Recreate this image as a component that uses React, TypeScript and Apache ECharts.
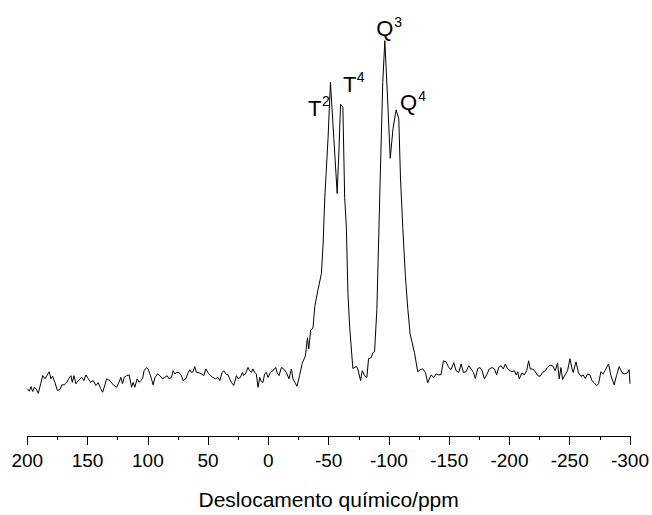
import React, { useEffect, useRef } from "react";
import * as echarts from "echarts";

// Chemical shift (ppm) and intensity (a.u.)
const ppm: number[] = [
  200.0, 198.3, 196.9, 195.5, 194.2, 192.8, 190.9, 188.9, 187.2, 185.3, 183.4, 181.8, 180.4, 179.0, 177.1, 175.1,
  172.9, 171.3, 169.3, 167.4, 165.5, 163.8, 162.7, 161.3, 159.7, 157.7, 154.9, 153.0, 151.4, 149.5, 147.5, 145.3,
  143.1, 141.2, 139.2, 137.5, 135.6, 134.2, 131.5, 128.7, 125.9, 124.0, 122.4, 121.0, 119.6, 117.6, 115.5, 113.5,
  112.2, 110.8, 108.9, 107.2, 106.0, 104.4, 103.1, 101.1, 99.8, 97.8, 95.6, 94.0, 92.0, 90.1, 87.8, 85.9,
  84.0, 82.4, 80.4, 79.0, 77.6, 76.2, 74.3, 72.1, 70.8, 68.5, 66.6, 65.2, 63.8, 62.5, 61.1, 59.7,
  57.5, 55.5, 53.6, 51.9, 50.0, 48.1, 45.9, 43.9, 41.8, 40.3, 38.4, 37.0, 35.4, 33.5, 32.1, 30.7,
  28.7, 26.5, 25.2, 23.2, 21.5, 20.5, 19.1, 16.9, 15.5, 14.1, 12.8, 11.4, 10.0, 8.6, 7.2, 5.8,
  4.5, 3.1, 1.7, 0.3, -1.7, -3.8, -6.1, -7.2, -8.8, -10.8, -12.7, -14.9, -17.1, -19.1, -20.4, -22.6,
  -23.7, -25.9, -28.0, -30.7, -32.4, -33.5, -35.1, -37.0, -38.5, -41.2, -44.0, -45.4, -46.8, -49.5, -51.5, -54.3,
  -57.1, -58.6, -59.9, -61.8, -63.3, -64.7, -66.0, -67.4, -70.1, -72.9, -74.2, -76.5, -77.9, -79.8, -81.7, -83.1,
  -85.3, -86.7, -88.1, -90.0, -91.4, -92.8, -94.9, -96.6, -98.9, -101.1, -103.4, -106.0, -108.2, -109.6, -111.5, -113.7,
  -115.7, -117.6, -121.2, -123.9, -125.9, -128.1, -130.3, -132.2, -135.0, -137.2, -139.2, -141.3, -143.3, -145.2, -147.5, -149.6,
  -151.6, -153.8, -155.8, -157.9, -159.9, -161.8, -164.0, -166.2, -168.2, -170.1, -171.7, -173.7, -175.6, -177.3, -179.2, -181.1,
  -183.3, -185.6, -187.5, -189.4, -191.0, -193.0, -194.9, -196.6, -198.5, -200.5, -202.2, -204.1, -205.5, -206.8, -208.2, -210.4,
  -212.3, -214.3, -215.9, -217.3, -219.2, -221.5, -223.4, -225.4, -227.5, -229.7, -231.6, -233.6, -235.8, -238.0, -239.9, -241.3,
  -242.7, -244.1, -246.1, -248.2, -250.2, -251.9, -252.9, -255.2, -257.3, -259.3, -261.2, -262.9, -264.8, -266.8, -268.4, -270.3,
  -272.2, -273.9, -275.9, -277.8, -280.0, -282.2, -284.2, -286.9, -288.8, -291.1, -293.3, -295.2, -297.9, -299.3, -300.0,
];

const intensity: number[] = [
  1.9, 1.2, 2.5, 1.1, 2.3, 1.9, 0.6, 3.3, 5.6, 4.7, 5.8, 6.7, 4.7, 5.4, 3.7, 1.4,
  1.7, 3.0, 3.0, 3.6, 4.8, 5.6, 3.7, 5.6, 3.3, 4.2, 5.1, 4.2, 5.8, 4.8, 3.7, 4.2,
  2.8, 3.6, 2.0, 0.9, 3.0, 4.7, 4.2, 3.0, 2.3, 3.7, 5.1, 3.3, 5.1, 5.6, 5.8, 2.3,
  3.7, 2.3, 4.7, 3.7, 4.2, 4.7, 7.0, 7.9, 7.5, 5.6, 3.0, 5.1, 6.1, 5.6, 4.7, 5.1,
  5.6, 4.7, 5.1, 7.0, 6.1, 6.5, 6.5, 5.6, 4.2, 4.7, 6.4, 7.3, 6.5, 6.7, 8.2, 6.5,
  6.4, 6.1, 5.6, 7.5, 6.4, 5.6, 5.1, 4.7, 5.1, 4.2, 6.5, 7.0, 6.1, 5.8, 4.7, 3.7,
  2.8, 5.6, 4.7, 5.1, 6.5, 5.6, 6.1, 7.9, 7.0, 6.5, 7.5, 6.5, 6.1, 2.3, 5.1, 3.9,
  3.7, 6.1, 6.5, 5.1, 6.5, 7.0, 7.9, 6.5, 5.6, 7.9, 7.5, 6.5, 4.7, 7.5, 4.7, 3.3,
  2.6, 5.6, 9.0, 11.2, 16.3, 13.2, 18.5, 19.1, 25.2, 30.0, 34.5, 42.9, 56.0, 72.8, 88.7, 72.8,
  57.2, 70.0, 82.5, 81.7, 56.0, 47.6, 28.9, 19.6, 7.6, 8.2, 7.5, 4.2, 7.0, 5.6, 5.1, 10.4,
  10.7, 12.1, 12.4, 24.3, 42.9, 61.6, 88.7, 100.5, 84.0, 67.2, 75.6, 80.9, 78.4, 61.6, 47.6, 33.6,
  24.4, 17.4, 12.1, 6.7, 7.3, 7.5, 6.5, 3.6, 5.8, 5.1, 6.1, 5.8, 5.9, 9.8, 9.5, 7.9,
  7.3, 9.3, 7.0, 6.5, 8.9, 6.5, 6.7, 8.4, 7.5, 6.5, 4.8, 7.6, 7.9, 7.0, 4.7, 5.8,
  7.5, 7.9, 7.5, 5.8, 7.9, 8.4, 7.5, 8.9, 7.5, 7.0, 6.7, 7.0, 5.8, 6.7, 4.7, 6.4,
  5.8, 7.0, 9.8, 7.5, 7.5, 6.7, 5.6, 5.4, 6.5, 7.0, 7.9, 8.6, 8.4, 7.0, 9.2, 4.7,
  7.9, 4.5, 5.8, 7.0, 10.4, 7.5, 6.5, 9.5, 6.4, 5.4, 5.8, 4.8, 6.1, 5.8, 4.2, 3.6,
  2.8, 3.3, 6.7, 6.1, 7.5, 8.9, 5.6, 3.0, 5.6, 8.2, 6.5, 6.1, 6.4, 7.3, 3.3,
];

// Peak annotations: letter, superscript, and their positions in (ppm, intensity)
const annLetters: string[] = ["T", "T", "Q", "Q"];
const annSups: string[] = ["2", "4", "3", "4"];
const annLetterPpm: number[] = [-38.4, -67.4, -96.5, -116.4];
const annLetterInt: number[] = [81.2, 88.0, 104.0, 83.1];
const annSupPpm: number[] = [-47.7, -76.6, -107.7, -127.6];
const annSupInt: number[] = [83.3, 90.1, 105.8, 84.9];

const xTicks = { min: -300, max: 200, interval: 50 };
const axisTitle = "Deslocamento químico/ppm";

const FONT = "'Liberation Sans', Arial, Helvetica, sans-serif";

export default function App() {
  const ref = useRef<HTMLDivElement>(null);

  useEffect(() => {
    if (!ref.current) return;
    const chart = echarts.init(ref.current, undefined, { renderer: "svg" });

    const markData: any[] = [];
    annLetters.forEach((l, i) => {
      markData.push({
        coord: [annLetterPpm[i], annLetterInt[i]],
        label: { show: true, position: "inside", formatter: l, fontSize: 22, color: "#000000", fontFamily: FONT },
      });
      markData.push({
        coord: [annSupPpm[i], annSupInt[i]],
        label: { show: true, position: "inside", formatter: annSups[i], fontSize: 14, color: "#000000", fontFamily: FONT },
      });
    });

    chart.setOption({
      animation: false,
      backgroundColor: "#ffffff",
      grid: { left: 27.3, right: 21.3, top: 7.14, bottom: 74, containLabel: false },
      xAxis: {
        type: "value",
        inverse: true,
        min: xTicks.min,
        max: xTicks.max,
        interval: xTicks.interval,
        name: axisTitle,
        nameLocation: "middle",
        nameGap: 53,
        nameTextStyle: { color: "#000", fontSize: 21, fontFamily: FONT },
        axisLine: { show: true, onZero: false, lineStyle: { color: "#000", width: 1 } },
        axisTick: { show: true, inside: false, length: 9, lineStyle: { color: "#000", width: 1 } },
        minorTick: { show: true, splitNumber: 2, length: 4, lineStyle: { color: "#000", width: 1 } },
        axisLabel: { color: "#000", fontSize: 19, fontFamily: FONT, margin: 15 },
        splitLine: { show: false },
        minorSplitLine: { show: false },
      },
      yAxis: {
        type: "value",
        show: false,
        min: -11.5,
        max: 110,
        splitLine: { show: false },
      },
      series: [
        {
          type: "line",
          data: ppm.map((p, i) => [p, intensity[i]]),
          showSymbol: false,
          symbol: "none",
          lineStyle: { color: "#000", width: 1 },
          clip: false,
          markPoint: {
            symbol: "circle",
            symbolSize: 0,
            itemStyle: { color: "transparent" },
            label: {
              show: true,
              position: "inside",
              color: "#000000",
              fontFamily: FONT,
            },
            data: markData,
          },
        },
      ],
    });

    return () => chart.dispose();
  }, []);

  return (
    <div
      ref={ref}
      style={{ position: "fixed", left: 0, top: 0, width: 652, height: 515, background: "#fff" }}
    />
  );
}
